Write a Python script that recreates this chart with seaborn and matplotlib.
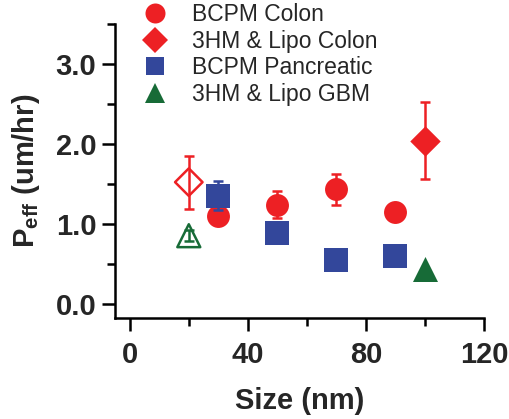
import matplotlib
matplotlib.use("Agg")
import matplotlib.pyplot as plt
from matplotlib.lines import Line2D
import pandas as pd
import seaborn as sns

# ----------------------------
# Data
# ----------------------------
SIZES_BCPM = [30, 50, 70, 90]
PEFF_BCPM_COLON = [1.10, 1.24, 1.43, 1.15]
ERR_BCPM_COLON = [0.0, 0.17, 0.19, 0.0]
PEFF_BCPM_PANC = [1.35, 0.88, 0.55, 0.59]
ERR_BCPM_PANC = [0.18, 0.0, 0.0, 0.0]

SIZES_3HM = [20, 100]
PEFF_3HM_COLON = [1.52, 2.04]
ERR_3HM_COLON = [0.33, 0.48]
PEFF_3HM_GBM = [0.85, 0.43]
ERR_3HM_GBM = [0.07, 0.0]
FILLED_3HM = [False, True]

SERIES = ["BCPM Colon", "3HM & Lipo Colon", "BCPM Pancreatic", "3HM & Lipo GBM"]
COLORS = {
    "BCPM Colon": "#ED2024",
    "3HM & Lipo Colon": "#ED2024",
    "BCPM Pancreatic": "#33479B",
    "3HM & Lipo GBM": "#176B37",
}
MARKERS = {
    "BCPM Colon": "o",
    "3HM & Lipo Colon": "D",
    "BCPM Pancreatic": "s",
    "3HM & Lipo GBM": "^",
}
SIZES_PT = {
    "BCPM Colon": 16.5,
    "3HM & Lipo Colon": 15.5,
    "BCPM Pancreatic": 17,
    "3HM & Lipo GBM": 18,
}
LEGEND_PT = {
    "BCPM Colon": 14.4,
    "3HM & Lipo Colon": 12.8,
    "BCPM Pancreatic": 13.0,
    "3HM & Lipo GBM": 14.5,
}

sns.set_theme(style="ticks")
plt.rcParams["font.family"] = ["Liberation Sans", "DejaVu Sans"]
plt.rcParams["mathtext.fontset"] = "custom"
plt.rcParams["mathtext.bf"] = "Liberation Sans:bold"
plt.rcParams["mathtext.rm"] = "Liberation Sans:bold"

# long table of all points
rows = []
for x, y, e in zip(SIZES_BCPM, PEFF_BCPM_COLON, ERR_BCPM_COLON):
    rows.append(("BCPM Colon", x, y, e, True))
for x, y, e in zip(SIZES_BCPM, PEFF_BCPM_PANC, ERR_BCPM_PANC):
    rows.append(("BCPM Pancreatic", x, y, e, True))
for x, y, e, f in zip(SIZES_3HM, PEFF_3HM_COLON, ERR_3HM_COLON, FILLED_3HM):
    rows.append(("3HM & Lipo Colon", x, y, e, f))
for x, y, e, f in zip(SIZES_3HM, PEFF_3HM_GBM, ERR_3HM_GBM, FILLED_3HM):
    rows.append(("3HM & Lipo GBM", x, y, e, f))
df = pd.DataFrame(rows, columns=["series", "size", "peff", "err", "filled"])

fig = plt.figure(figsize=(5.10, 4.19), dpi=100)
ax = fig.add_axes([0.2255, 0.241, 0.949 - 0.2255, 0.943 - 0.241])

draw_order = ["BCPM Colon", "BCPM Pancreatic", "3HM & Lipo Colon", "3HM & Lipo GBM"]
for z, name in enumerate(draw_order):
    sub = df[df["series"] == name]
    col = COLORS[name]
    eb = sub[sub["err"] > 0]
    if len(eb):
        ax.errorbar(eb["size"], eb["peff"], yerr=eb["err"], fmt="none",
                    ecolor=col, elinewidth=1.8, capsize=3.8, capthick=1.8,
                    zorder=2 + 2 * z)
    filled = sub[sub["filled"]]
    sns.scatterplot(data=filled, x="size", y="peff", ax=ax, color=col,
                    marker=MARKERS[name], s=SIZES_PT[name] ** 2,
                    linewidth=0, legend=False, zorder=3 + 2 * z)
    hollow = sub[~sub["filled"]]
    if len(hollow):
        ax.scatter(hollow["size"], hollow["peff"], marker=MARKERS[name],
                   s=(SIZES_PT[name] - 1.5) ** 2, facecolors="none",
                   edgecolors=col, linewidths=1.8, zorder=3 + 2 * z)

ax.set_xlim(-5, 120)
ax.set_ylim(-0.18, 3.5)
ax.set_xticks([0, 40, 80, 120])
ax.set_xticks([20, 60, 100], minor=True)
ax.set_yticks([0, 1, 2, 3])
ax.set_yticks([0.5, 1.5, 2.5, 3.5], minor=True)
ax.set_yticklabels(["0.0", "1.0", "2.0", "3.0"])

for s in ["top", "right"]:
    ax.spines[s].set_visible(False)
for s in ["left", "bottom"]:
    ax.spines[s].set_linewidth(1.8)
    ax.spines[s].set_color("black")

ax.tick_params(which="major", length=9.5, width=1.8, color="black",
               labelsize=21)
ax.tick_params(axis="x", which="major", pad=7)
ax.tick_params(axis="y", which="major", pad=4)
ax.tick_params(which="minor", length=5.5, width=1.8, color="black")
for lab in ax.get_xticklabels() + ax.get_yticklabels():
    lab.set_fontweight("bold")

ax.set_xlabel("Size (nm)", fontsize=21, fontweight="bold", labelpad=13)
ax.set_ylabel(r"P$_{\mathbf{eff}}$ (um/hr)", fontsize=21, fontweight="bold",
              labelpad=10)

handles = [
    Line2D([], [], linestyle="none", marker=MARKERS[n], color=COLORS[n],
           markersize=LEGEND_PT[n], markeredgewidth=0)
    for n in SERIES
]
fig.legend(handles, SERIES, loc="upper left", bbox_to_anchor=(0.277, 0.993),
           frameon=False, fontsize=16.5, labelspacing=0.16, handletextpad=1.0,
           handlelength=1.2, borderpad=0, borderaxespad=0)

fig.savefig("out.png", dpi=100)
